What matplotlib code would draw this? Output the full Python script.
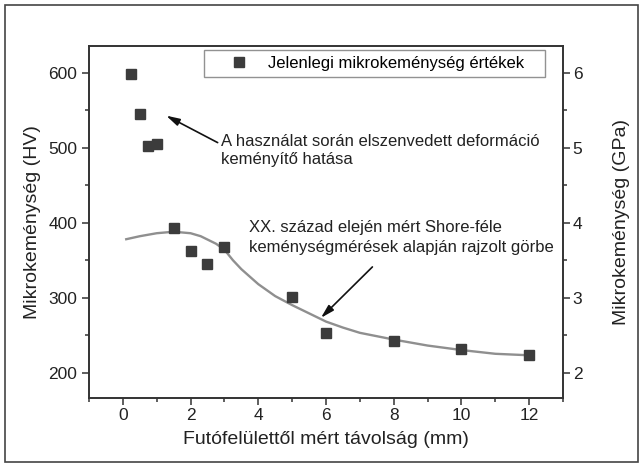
import numpy as np
import matplotlib
matplotlib.use("Agg")
import matplotlib.pyplot as plt
from matplotlib.ticker import MultipleLocator
from matplotlib.patches import Rectangle

plt.rcParams['font.family'] = ['Liberation Sans', 'DejaVu Sans']

# measured micro-hardness (HV)
dist_mm = [0.25, 0.5, 0.75, 1.0, 1.5, 2.0, 2.5, 3.0, 5.0, 6.0, 8.0, 10.0, 12.0]
hv_meas = [598, 545, 503, 505, 393, 362, 345, 367, 301, 253, 242, 231, 224]

# early 20th c. Shore curve
shore_x = [0.1, 0.5, 1.0, 1.5, 2.0, 2.3, 2.75, 3.0, 3.25, 3.5, 3.75, 4.0, 4.25,
           4.5, 5.0, 5.5, 6.0, 6.5, 7.0, 8.0, 9.0, 10.0, 11.0, 12.0]
shore_hv = [378, 382, 386, 388, 386, 382, 372, 364, 350, 338, 328, 318, 310,
            302, 290, 279, 268, 260, 253, 244, 236, 230, 225, 223]

ax_col = "#333333"
txt_col = "#222222"

fig = plt.figure(figsize=(6.42, 4.67), dpi=100)
ax = fig.add_axes([0.1386, 0.1478, 0.7384, 0.7537])

ax.plot(shore_x, shore_hv, color="#8f8f8f", lw=1.7, zorder=2)
ax.plot(dist_mm, hv_meas, "s", color="#3c3c3c", ms=6.5, zorder=3,
        label="Jelenlegi mikrokeménység értékek")

ax.set_xlim(-1, 13)
ax.set_ylim(166, 636)
ax.xaxis.set_major_locator(MultipleLocator(2))
ax.xaxis.set_minor_locator(MultipleLocator(1))
ax.yaxis.set_major_locator(MultipleLocator(100))
ax.yaxis.set_minor_locator(MultipleLocator(50))

ax2 = ax.twinx()
ax2.set_ylim(1.66, 6.36)
ax2.yaxis.set_major_locator(MultipleLocator(1))
ax2.yaxis.set_minor_locator(MultipleLocator(0.5))

for a in (ax, ax2):
    for s in a.spines.values():
        s.set_color(ax_col)
        s.set_linewidth(1.2)
    a.tick_params(which="both", direction="out", color=ax_col, width=1.1,
                  labelsize=12.5, labelcolor=txt_col)
    a.tick_params(which="major", length=5)
    a.tick_params(which="minor", length=3)
ax.tick_params(axis="x", which="both", top=False, pad=2)
ax2.tick_params(axis="y", which="both", pad=2)

ax.set_xlabel("Futófelülettől mért távolság (mm)", fontsize=14, color=txt_col, labelpad=6)
ax.set_ylabel("Mikrokeménység (HV)", fontsize=14, color=txt_col, labelpad=5)
ax2.set_ylabel("Mikrokeménység (GPa)", fontsize=14, color=txt_col, labelpad=22)

leg = ax.legend(loc="upper left", bbox_to_anchor=(0.243, 0.920, 0.719, 0.069),
                mode="expand", fontsize=12, frameon=True, fancybox=False,
                borderpad=0.35, handletextpad=0.0, handlelength=3.5,
                borderaxespad=0)
leg.get_frame().set_edgecolor("#777777")
leg.get_frame().set_linewidth(1.0)

arrow = dict(arrowstyle="-|>,head_length=0.8,head_width=0.22", color="#111111", lw=1.2,
             shrinkA=0, shrinkB=0)
ax.annotate("", xy=(1.28, 543), xytext=(2.80, 507), arrowprops=arrow)
ax.text(2.91, 497, "A használat során elszenvedett deformáció\nkeményítő hatása",
        fontsize=12, va="center", ha="left", color=txt_col, linespacing=1.25)
ax.annotate("", xy=(5.85, 273), xytext=(7.37, 341), arrowprops=arrow)
ax.text(3.72, 380, "XX. század elején mért Shore-féle\nkeménységmérések alapján rajzolt görbe",
        fontsize=12, va="center", ha="left", color=txt_col, linespacing=1.4)

fig.patches.append(Rectangle((5 / 642, 5 / 467), 633 / 642, 457 / 467,
                             transform=fig.transFigure, fill=False,
                             edgecolor="#444444", lw=1.2))

fig.savefig("out.png", dpi=100)
